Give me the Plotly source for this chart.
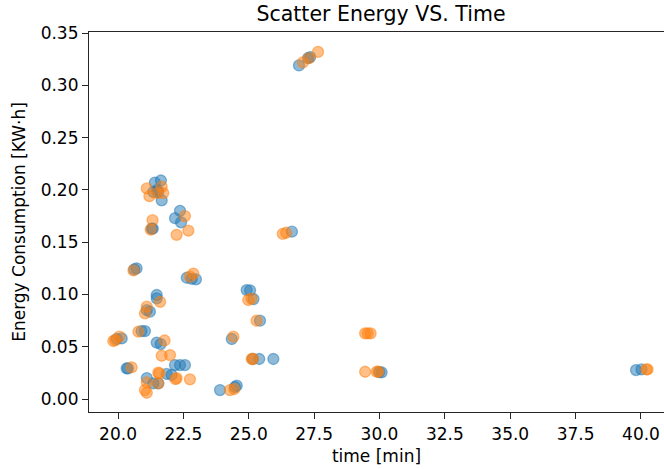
import plotly.graph_objects as go

# Series 1 (blue)
blue_time = [27.27, 27.35, 26.92, 26.65, 21.41, 21.64, 21.35, 21.54, 21.67, 21.50,
             22.37, 22.18, 22.41, 21.29, 21.33, 20.71, 20.62, 22.63, 22.98, 22.82,
             21.48, 21.48, 21.10, 21.22, 20.90, 21.03, 19.95, 20.14, 21.48, 21.63,
             20.33, 20.38, 22.18, 22.37, 22.56, 21.86, 22.05, 21.35, 21.54, 21.10,
             23.90, 24.54, 24.47, 24.92, 25.05, 25.18, 25.43, 24.35, 25.40, 25.94,
             25.15, 30.08, 29.99, 39.81, 40.02]
blue_energy = [0.326, 0.327, 0.319, 0.160, 0.207, 0.209, 0.198, 0.198, 0.190, 0.200,
               0.180, 0.173, 0.169, 0.163, 0.163, 0.125, 0.124, 0.116, 0.1145, 0.115,
               0.0995, 0.0963, 0.085, 0.0835, 0.065, 0.065, 0.0574, 0.058, 0.054, 0.0526,
               0.0294, 0.0294, 0.0325, 0.0325, 0.0325, 0.024, 0.023, 0.015, 0.015, 0.020,
               0.0086, 0.0128, 0.0115, 0.1042, 0.104, 0.0956, 0.0749, 0.0574, 0.0383, 0.0383,
               0.0383, 0.0255, 0.0258, 0.0277, 0.0283]

# Series 2 (orange)
orange_time = [27.65, 27.07, 27.30, 26.43, 26.30, 21.10, 21.20, 21.73, 21.67, 21.50,
               22.56, 22.69, 22.24, 21.32, 21.25, 20.59, 22.88, 22.75, 21.61, 21.10,
               21.03, 20.78, 19.89, 19.82, 20.05, 21.78, 21.67, 21.99, 20.52, 21.54,
               21.58, 22.24, 22.75, 22.20, 21.10, 21.54, 21.03, 21.10, 24.28, 24.45,
               24.41, 24.98, 25.10, 25.30, 25.11, 25.16, 29.45, 29.55, 29.66, 29.45,
               29.89, 29.96, 40.21, 40.25]
orange_energy = [0.332, 0.322, 0.326, 0.159, 0.158, 0.2014, 0.194, 0.197, 0.203, 0.197,
                 0.175, 0.161, 0.157, 0.171, 0.162, 0.123, 0.120, 0.117, 0.093, 0.0883,
                 0.082, 0.0644, 0.0564, 0.0555, 0.0596, 0.056, 0.0414, 0.042, 0.0303, 0.0252,
                 0.0245, 0.020, 0.0188, 0.019, 0.016, 0.015, 0.0086, 0.006, 0.0086, 0.0096,
                 0.0596, 0.0947, 0.096, 0.0749, 0.0383, 0.0383, 0.0628, 0.0628, 0.0628, 0.0261,
                 0.0261, 0.0261, 0.0283, 0.0283]

x_ticks = [20.0, 22.5, 25.0, 27.5, 30.0, 32.5, 35.0, 37.5, 40.0]
y_ticks = [0.00, 0.05, 0.10, 0.15, 0.20, 0.25, 0.30, 0.35]

FONT = "DejaVu Sans"
fig = go.Figure()
for xs, ys, rgb in [(blue_time, blue_energy, "31,119,180"),
                    (orange_time, orange_energy, "255,127,14")]:
    fig.add_trace(go.Scatter(
        x=xs, y=ys, mode="markers", showlegend=False,
        marker=dict(size=11, color=f"rgba({rgb},0.5)",
                    line=dict(color=f"rgba({rgb},0.5)", width=1.3)),
    ))

axis_common = dict(showgrid=False, zeroline=False, showline=True, linecolor="#262626",
                   linewidth=1.2, ticks="outside", ticklen=6, tickwidth=1.1,
                   tickcolor="#262626", tickfont=dict(family=FONT, size=17, color="black"),
                   title_font=dict(family=FONT, size=17, color="black"))
fig.update_xaxes(range=[18.89, 40.88], tickvals=x_ticks,
                 ticktext=[f"{v:.1f}" for v in x_ticks], mirror=True,
                 title=dict(text="time [min]", standoff=7), **axis_common)
fig.update_yaxes(range=[-0.0124, 0.351], tickvals=y_ticks,
                 ticktext=[f"{v:.2f}" for v in y_ticks],
                 title=dict(text="Energy Consumption [KW·h]", standoff=10), **axis_common)

fig.update_layout(
    width=664, height=469,
    margin=dict(l=89, r=0, t=32, b=57),
    plot_bgcolor="white", paper_bgcolor="white",
    title=dict(text="Scatter Energy VS. Time", x=381/664, xanchor="center",
               y=1 - 14/469, yanchor="middle", xref="container", yref="container",
               font=dict(family=FONT, size=20.5, color="black")),
)
fig.write_html("out.html")
